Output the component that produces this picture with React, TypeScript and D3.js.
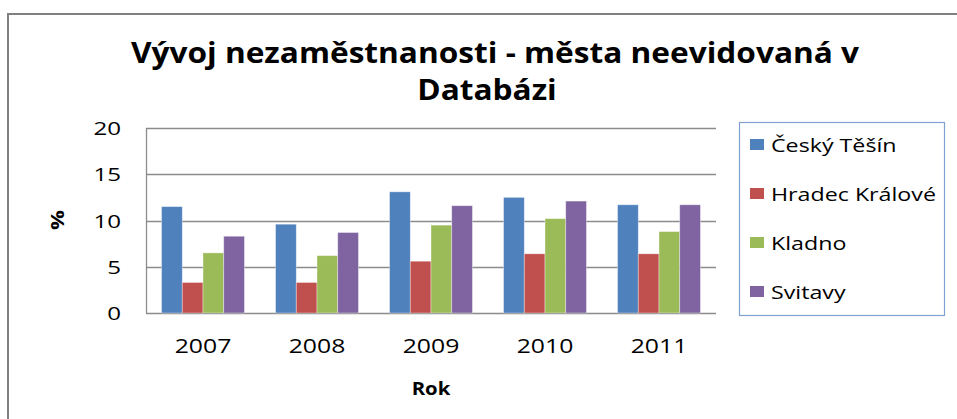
import React from "react";
import * as d3 from "d3";

const years = ["2007", "2008", "2009", "2010", "2011"];
const seriesNames = ["Český Těšín", "Hradec Králové", "Kladno", "Svitavy"];
const ceskyTesin = [11.5, 9.6, 13.1, 12.5, 11.7];
const hradecKralove = [3.3, 3.3, 5.6, 6.4, 6.4];
const kladno = [6.5, 6.2, 9.5, 10.2, 8.8];
const svitavy = [8.3, 8.7, 11.6, 12.1, 11.7];
const yTicks = [0, 5, 10, 15, 20];
const colors = ["#4F81BD", "#C0504D", "#9BBB59", "#8064A2"];
const titleLines = ["Vývoj nezaměstnanosti - města neevidovaná v", "Databázi"];
const xTitle = "Rok";
const yTitle = "%";

const FONT = "'Open Sans', sans-serif";
const SX = 1.27;

function T(props: {
  x: number;
  y: number;
  anchor?: string;
  size: number;
  weight?: string;
  sx?: number;
  children: React.ReactNode;
}) {
  const { x, y, anchor = "start", size, weight = "normal", sx = SX, children } = props;
  return (
    <text
      transform={`translate(${x},${y}) scale(${sx},1)`}
      textAnchor={anchor}
      fontSize={size}
      fontWeight={weight}
      fontFamily={FONT}
      fill="#000"
    >
      {children}
    </text>
  );
}

export default function App() {
  const W = 957;
  const H = 419;
  const plot = { left: 146, right: 716, top: 128, bottom: 313 };
  const data = [ceskyTesin, hradecKralove, kladno, svitavy];

  const x0 = d3
    .scaleBand<string>()
    .domain(years)
    .range([plot.left, plot.right])
    .paddingInner(0)
    .paddingOuter(0);
  const barW = x0.bandwidth() / (seriesNames.length + 1.5);
  const x1 = d3
    .scaleBand<string>()
    .domain(seriesNames)
    .range([0, barW * seriesNames.length]);
  const groupOffset = (x0.bandwidth() - barW * seriesNames.length) / 2;
  const y = d3.scaleLinear().domain([0, 20]).range([plot.bottom, plot.top]);

  const legend = { x: 739, y: 122, w: 205, h: 193 };
  const legendRowY = [145, 194, 243, 292];

  return (
    <svg
      width={W}
      height={H}
      style={{ position: "absolute", left: 0, top: 0, background: "#fff" }}
    >
      <rect x={0} y={0} width={W} height={H} fill="#fff" />
      {/* outer frame */}
      <path d={`M8,${H + 5} V14 H${W + 5}`} fill="none" stroke="#808080" strokeWidth={2} />

      {/* title */}
      <T x={495} y={63} anchor="middle" size={28} weight="bold" sx={1.13}>
        {titleLines[0]}
      </T>
      <T x={487} y={100} anchor="middle" size={28} weight="bold" sx={1.13}>
        {titleLines[1]}
      </T>

      {/* gridlines */}
      {yTicks.map((t) => (
        <line
          key={t}
          x1={plot.left}
          x2={plot.right}
          y1={Math.round(y(t)) + 0.5}
          y2={Math.round(y(t)) + 0.5}
          stroke="#8c8c8c"
          strokeWidth={1.3}
        />
      ))}
      <line
        x1={plot.left + 0.5}
        x2={plot.left + 0.5}
        y1={plot.top}
        y2={plot.bottom}
        stroke="#8c8c8c"
        strokeWidth={1.3}
      />

      {/* bars */}
      {years.map((yr, i) => (
        <g key={yr} transform={`translate(${(x0(yr) ?? 0) + groupOffset},0)`}>
          {seriesNames.map((s, j) => {
            const v = data[j][i];
            return (
              <rect
                key={s}
                x={x1(s) ?? 0}
                y={y(v)}
                width={x1.bandwidth()}
                height={y(0) - y(v)}
                fill={colors[j]}
                stroke="rgba(255,255,255,0.45)"
                strokeWidth={0.8}
              />
            );
          })}
        </g>
      ))}

      {/* y tick labels */}
      {yTicks.map((t) => (
        <T key={t} x={121} y={y(t) + 7} anchor="end" size={19}>
          {String(t)}
        </T>
      ))}

      {/* x tick labels */}
      {years.map((yr) => (
        <T key={yr} x={(x0(yr) ?? 0) + x0.bandwidth() / 2} y={353} anchor="middle" size={19.5}>
          {yr}
        </T>
      ))}

      {/* axis titles */}
      <T x={431} y={395} anchor="middle" size={18.5} weight="bold" sx={1.1}>
        {xTitle}
      </T>
      <text
        transform={`translate(64,220) rotate(-90) scale(1.2,1)`}
        textAnchor="middle"
        fontSize={18.5}
        fontWeight="bold"
        fontFamily={FONT}
      >
        {yTitle}
      </text>

      {/* legend */}
      <rect
        x={legend.x + 0.5}
        y={legend.y + 0.5}
        width={legend.w}
        height={legend.h}
        fill="#fff"
        stroke="#7FA1D4"
        strokeWidth={1.2}
      />
      {seriesNames.map((s, j) => (
        <g key={s}>
          <rect x={750} y={legendRowY[j] - 6} width={14} height={11} fill={colors[j]} />
          <T x={771} y={legendRowY[j] + 7} size={18} sx={1.29}>
            {s}
          </T>
        </g>
      ))}
    </svg>
  );
}
